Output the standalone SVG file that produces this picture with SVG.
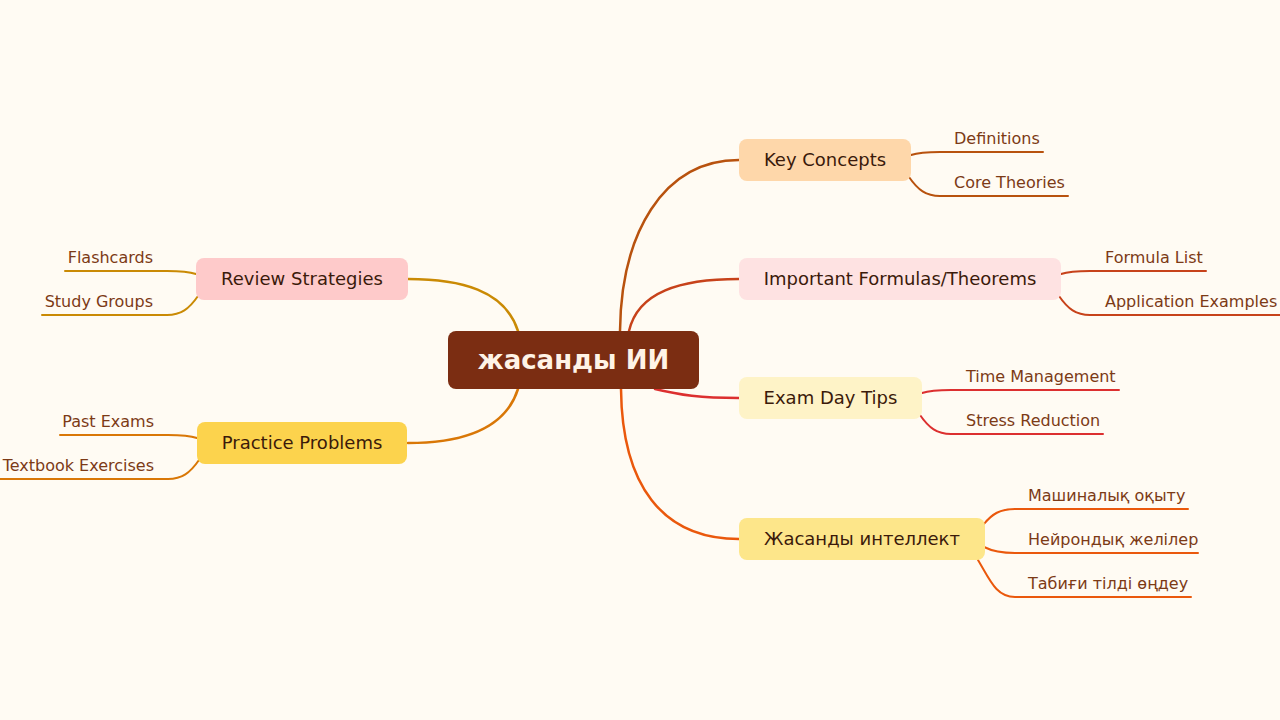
<svg xmlns="http://www.w3.org/2000/svg" width="1280" height="720" viewBox="0 0 1280 720">
<style>
.bg{fill:#FFFBF3}
.c{fill:none;stroke-width:2.5;stroke-linecap:round}
.s{fill:none;stroke-width:2;stroke-linecap:round}
.nt{font-family:"DejaVu Sans",sans-serif;font-size:18px;fill:#3B1A0A;text-anchor:middle}
.st{font-family:"DejaVu Sans",sans-serif;font-size:16px;fill:#7C3A16}
.r{text-anchor:end}
.ct{font-family:"DejaVu Sans",sans-serif;font-size:26px;font-weight:bold;fill:#FFF3E6;text-anchor:middle}
</style>
<rect class="bg" x="0" y="0" width="1280" height="720"/>
<g id="connectors">
<path class="c" stroke="#B8520E" d="M620,331 C621,235 662,160 739,160"/>
<path class="c" stroke="#C7421A" d="M629,331 C638,292 680,279 739,279"/>
<path class="c" stroke="#DC2F2F" d="M655,389 C680,395 700,398 739,398"/>
<path class="c" stroke="#EA580C" d="M621,389 C622,485 662,539 739,539"/>
<path class="c" stroke="#CA8A04" d="M518,331 C505,290 460,279 408,279"/>
<path class="c" stroke="#D97706" d="M518,389 C505,430 460,443 408,443"/>
<path class="s" stroke="#B8520E" d="M911,155 C920,152 928,152 940,152 L1043,152"/>
<path class="s" stroke="#B8520E" d="M909,177 C918,190 926,196 940,196 L1068,196"/>
<path class="s" stroke="#C7421A" d="M1061,274 C1070,271 1078,271 1090,271 L1206,271"/>
<path class="s" stroke="#C7421A" d="M1059,296 C1068,309 1076,315 1090,315 L1280,315"/>
<path class="s" stroke="#DC2F2F" d="M922,393 C931,390 939,390 951,390 L1119,390"/>
<path class="s" stroke="#DC2F2F" d="M920,415 C929,428 937,434 951,434 L1103,434"/>
<path class="s" stroke="#EA580C" d="M984,524 C992,514 1000,509 1015,509 L1188,509"/>
<path class="s" stroke="#EA580C" d="M984,547 C992,551 1000,553 1015,553 L1198,553"/>
<path class="s" stroke="#EA580C" d="M978,560 C990,580 996,597 1015,597 L1191,597"/>
<path class="s" stroke="#CA8A04" d="M196,274 C187,271 179,271 167,271 L65,271"/>
<path class="s" stroke="#CA8A04" d="M198,296 C189,309 181,315 167,315 L42,315"/>
<path class="s" stroke="#D97706" d="M197,438 C188,435 180,435 168,435 L60,435"/>
<path class="s" stroke="#D97706" d="M199,460 C190,473 182,479 168,479 L0,479"/>
</g>
<g id="center">
<rect x="448" y="331" width="251" height="58" rx="8" fill="#7B2D12"/>
<text class="ct" x="573.5" y="369">жасанды ИИ</text>
</g>
<g id="n-key">
<rect x="739" y="139" width="172" height="42" rx="8" fill="#FED7AA"/>
<text class="nt" x="825" y="166">Key Concepts</text>
<text class="st" x="954" y="144">Definitions</text>
<text class="st" x="954" y="188">Core Theories</text>
</g>
<g id="n-formulas">
<rect x="739" y="258" width="322" height="42" rx="8" fill="#FEE2E2"/>
<text class="nt" x="900" y="285">Important Formulas/Theorems</text>
<text class="st" x="1105" y="263">Formula List</text>
<text class="st" x="1105" y="307">Application Examples</text>
</g>
<g id="n-exam">
<rect x="739" y="377" width="183" height="42" rx="8" fill="#FEF3C7"/>
<text class="nt" x="830.5" y="404">Exam Day Tips</text>
<text class="st" x="966" y="382">Time Management</text>
<text class="st" x="966" y="426">Stress Reduction</text>
</g>
<g id="n-ai">
<rect x="739" y="518" width="246" height="42" rx="8" fill="#FDE68A"/>
<text class="nt" x="862" y="545">Жасанды интеллект</text>
<text class="st" x="1028" y="501">Машиналық оқыту</text>
<text class="st" x="1028" y="545">Нейрондық желілер</text>
<text class="st" x="1028" y="589">Табиғи тілді өңдеу</text>
</g>
<g id="n-review">
<rect x="196" y="258" width="212" height="42" rx="8" fill="#FECACA"/>
<text class="nt" x="302" y="285">Review Strategies</text>
<text class="st r" x="153" y="263">Flashcards</text>
<text class="st r" x="153" y="307">Study Groups</text>
</g>
<g id="n-practice">
<rect x="197" y="422" width="210" height="42" rx="8" fill="#FCD34D"/>
<text class="nt" x="302" y="449">Practice Problems</text>
<text class="st r" x="154" y="427">Past Exams</text>
<text class="st r" x="154" y="471">Textbook Exercises</text>
</g>
</svg>
